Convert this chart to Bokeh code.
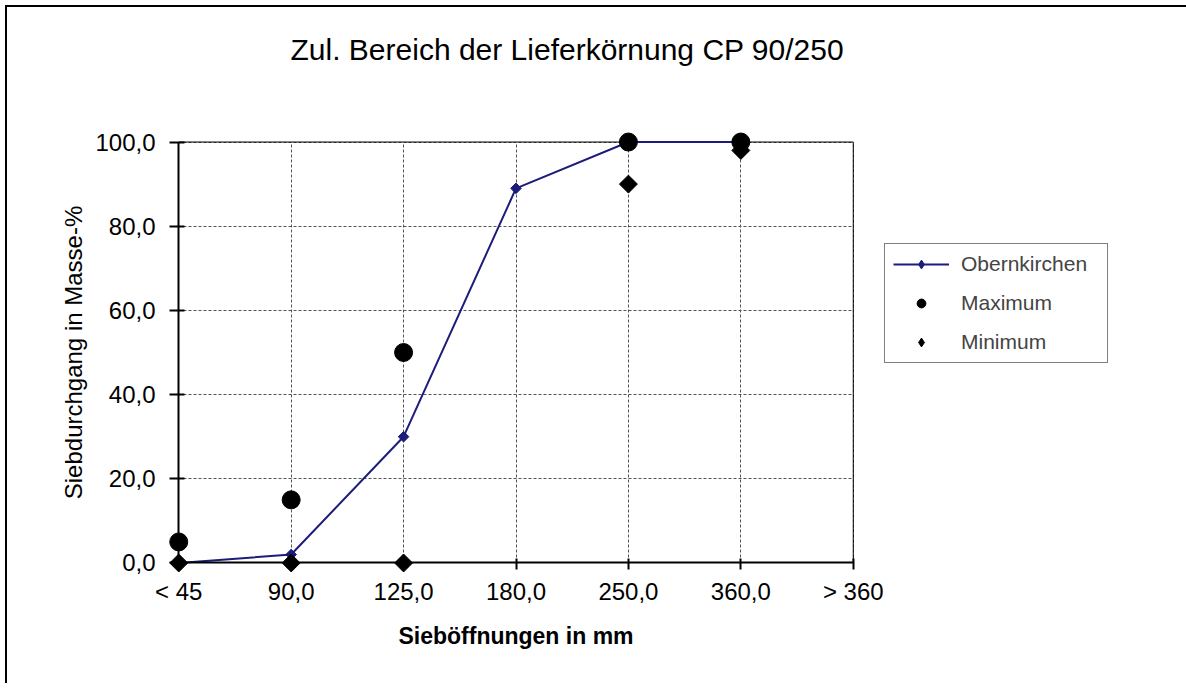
import math
from bokeh.plotting import figure
from bokeh.models import ColumnDataSource, Legend, LegendItem, FixedTicker, Range1d, LinearAxis
from bokeh.embed import file_html
from bokeh.resources import INLINE

categories = ["< 45", "90,0", "125,0", "180,0", "250,0", "360,0", "> 360"]
obernkirchen = [0.0, 2.0, 30.0, 89.0, 100.0, 100.0]
maximum = [5.0, 15.0, 50.0, None, 100.0, 100.0]
minimum = [0.0, 0.0, 0.0, None, 90.0, 98.0]
y_ticks = [0, 20, 40, 60, 80, 100]
y_tick_labels = ["0,0", "20,0", "40,0", "60,0", "80,0", "100,0"]
title_text = "Zul. Bereich der Lieferkörnung CP 90/250"

FONT = "Liberation Sans"
NAVY = "#1c1c7a"

n = len(categories)
xpos = list(range(n))
ymax = y_ticks[-1]

p = figure(frame_width=697, frame_height=442, output_backend="svg", toolbar_location=None,
           x_range=Range1d(-0.1, n - 1 + 0.1), y_range=Range1d(-2.5, ymax + 2.5),
           min_border_left=160, min_border_right=300, min_border_top=124, min_border_bottom=110)
p.styles = {"border-left": "2px solid black", "border-top": "2px solid black",
            "margin-left": "5px", "margin-top": "5px"}

p.background_fill_color = "white"
p.border_fill_color = "white"
p.outline_line_color = None

# default axes (grab them before any extra axis is added): labels only
xa = p.below[0]
ya = p.left[0]
xa.ticker = FixedTicker(ticks=xpos)
xa.major_label_overrides = {i: c for i, c in enumerate(categories)}
ya.ticker = FixedTicker(ticks=y_ticks)
ya.major_label_overrides = {t: l for t, l in zip(y_ticks, y_tick_labels)}
for ax in (xa, ya):
    ax.axis_line_color = None
    ax.major_tick_line_color = None
    ax.minor_tick_line_color = None
    ax.major_tick_in = 0
    ax.major_tick_out = 0
    ax.major_label_text_font = FONT
    ax.major_label_text_font_size = "24px"
    ax.major_label_text_color = "black"
    ax.axis_label_text_font = FONT
    ax.axis_label_text_color = "black"
xa.major_label_standoff = 4
ya.major_label_standoff = 12
xa.axis_label = "Sieböffnungen in mm"
xa.axis_label_text_font_style = "bold"
xa.axis_label_text_font_size = "23px"
xa.axis_label_standoff = 15
ya.axis_label = "Siebdurchgang in Masse-%"
ya.axis_label_text_font_style = "normal"
ya.axis_label_text_font_size = "24px"
ya.axis_label_standoff = 5

# grid limited to the data area
p.xgrid.ticker = FixedTicker(ticks=xpos)
p.ygrid.ticker = FixedTicker(ticks=y_ticks)
p.xgrid.cross_bounds = (0, ymax)
p.ygrid.cross_bounds = (0, n - 1)
for g in (p.xgrid, p.ygrid):
    g.grid_line_color = "#555555"
    g.grid_line_dash = "3 2"
    g.grid_line_width = 1

# title
p.title.text = title_text
p.title.text_font = FONT
p.title.text_font_size = "30px"
p.title.text_font_style = "normal"
p.title.text_color = "black"
p.title.align = "left"
p.title.offset = 123
p.title.standoff = 0

# invisible spacer between title and plot area
spacer = LinearAxis(ticker=FixedTicker(ticks=[0]), major_label_overrides={0: ""},
                    axis_line_color=None, major_tick_line_color=None, minor_tick_line_color=None,
                    major_tick_in=0, major_tick_out=66, major_label_standoff=0,
                    major_label_text_color=None, major_label_text_font_size="1px")
p.add_layout(spacer, "above")

# axis lines and ticks at data zero
xline = LinearAxis(fixed_location=0, bounds=(0, n - 1), ticker=FixedTicker(ticks=xpos),
                   major_tick_in=4, major_tick_out=7)
yline = LinearAxis(fixed_location=0, bounds=(0, ymax), ticker=FixedTicker(ticks=y_ticks),
                   major_tick_in=6, major_tick_out=9)
for ax in (xline, yline):
    ax.axis_line_width = 2
    ax.axis_line_color = "black"
    ax.major_tick_line_color = "black"
    ax.major_tick_line_width = 2
    ax.minor_tick_line_color = None
    ax.major_label_text_color = None
    ax.major_label_text_font_size = "1px"
    ax.major_label_standoff = 0
p.add_layout(xline, "below")
p.add_layout(yline, "left")

# top and right edges of the plot area
p.line(x=[0, n - 1, n - 1], y=[ymax, ymax, 0], line_color="black", line_width=1)

src = ColumnDataSource(dict(x=xpos[:len(obernkirchen)], ober=obernkirchen,
                            mx=[v if v is not None else float("nan") for v in maximum],
                            mn=[v if v is not None else float("nan") for v in minimum]))

r_line = p.line("x", "ober", source=src, line_color=NAVY, line_width=2)
p.scatter("x", "ober", source=src, marker="square", angle=math.pi / 4, size=7.5, color=NAVY)
r_max = p.scatter("x", "mx", source=src, marker="circle", size=18, color="black")
p.scatter("x", "mn", source=src, marker="square", angle=math.pi / 4, size=12.7, color="black")

# legend-only proxies (diamond glyphs), never visible in the plot area
proxy = ColumnDataSource(dict(x=[float("nan")], y=[float("nan")]))
lg_ober = p.scatter("x", "y", source=proxy, marker="diamond", size=10, color=NAVY)
lg_min = p.scatter("x", "y", source=proxy, marker="diamond", size=10, color="black")

legend = Legend(items=[
    LegendItem(label="Obernkirchen", renderers=[r_line, lg_ober]),
    LegendItem(label="Maximum", renderers=[r_max]),
    LegendItem(label="Minimum", renderers=[lg_min]),
], location=(20, 210))
legend.border_line_color = "black"
legend.border_line_width = 1
legend.background_fill_alpha = 1
legend.label_text_font = FONT
legend.label_text_font_size = "21px"
legend.glyph_width = 56
legend.glyph_height = 22
legend.label_height = 22
legend.spacing = 15
legend.padding = 8
legend.label_standoff = 12
legend.label_width = 138
legend.margin = 0
p.add_layout(legend, "right")

open("out.html", "w").write(file_html(p, INLINE))
